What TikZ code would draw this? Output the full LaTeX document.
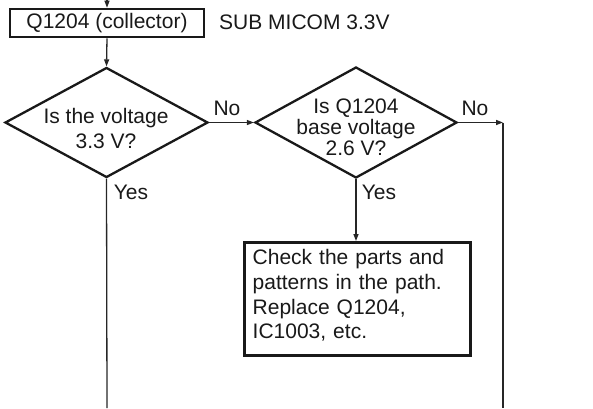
\documentclass[tikz,border=0pt]{standalone}
\usepackage{fontspec}
\setmainfont{Liberation Sans}
\usetikzlibrary{shapes.geometric,arrows.meta}
\begin{document}
\begin{tikzpicture}[x=1pt,y=-1pt,
  every node/.style={font=\fontsize{21}{24.6}\selectfont, inner sep=0pt, text=black!90},
  boxnode/.style={draw=black!90, line width=2.6pt, fill=white},
  dianode/.style={draw=black!90, line width=2.3pt, shape=diamond, inner sep=0pt},
  conn/.style={draw=black!85, line width=1.3pt},
  arr/.style={conn, -{Triangle[length=7pt,width=5pt]}}]
\useasboundingbox (0,0) rectangle (593,408);
\coordinate (top) at (107,0);
\node[boxnode, minimum width=194pt, minimum height=28pt] (b1) at (107,23) {Q1204 (collector)};
\node[anchor=west] (sub) at (219,22) {SUB MICOM 3.3V};
\node[dianode, minimum width=203pt, minimum height=110pt] (d1) at (106.5,122.5) {};
\node[align=center] (t1) at (106,128.5) {Is the voltage\\3.3 V?};
\node[dianode, minimum width=202pt, minimum height=111pt] (d2) at (356,122.5) {};
\node[align=center, font=\fontsize{21}{20.8}\selectfont] (t2) at (356,127.5) {Is Q1204\\base voltage\\2.6 V?};
\node (no1) at (227,108) {No};
\node (no2) at (475,108) {No};
\node (yes1) at (131,192) {Yes};
\node (yes2) at (379,192) {Yes};
\node[boxnode, minimum width=226pt, minimum height=113pt, anchor=north west] (b2) at (243,241) {};
\node[text width=207pt, align=left, anchor=north west] (t3) at (252.5,249.5) {Check the parts and\\patterns in the path.\\Replace Q1204,\\IC1003, etc.};
\coordinate (r1) at (503,122.5);
\coordinate (r2) at (503,408);
\coordinate (l2) at (107,408);
\draw[arr] (top) -- (b1.north);
\draw[arr] (b1.south) -- (d1.north);
\draw[arr] (d1.east) -- (d2.west);
\draw[arr] (d2.east) -- (r1);
\draw[conn] (r1) -- (r2);
\draw[conn] (d1.south) -- (l2);
\draw[arr] (d2.south) -- (b2.north -| d2.south);
\end{tikzpicture}
\end{document}
